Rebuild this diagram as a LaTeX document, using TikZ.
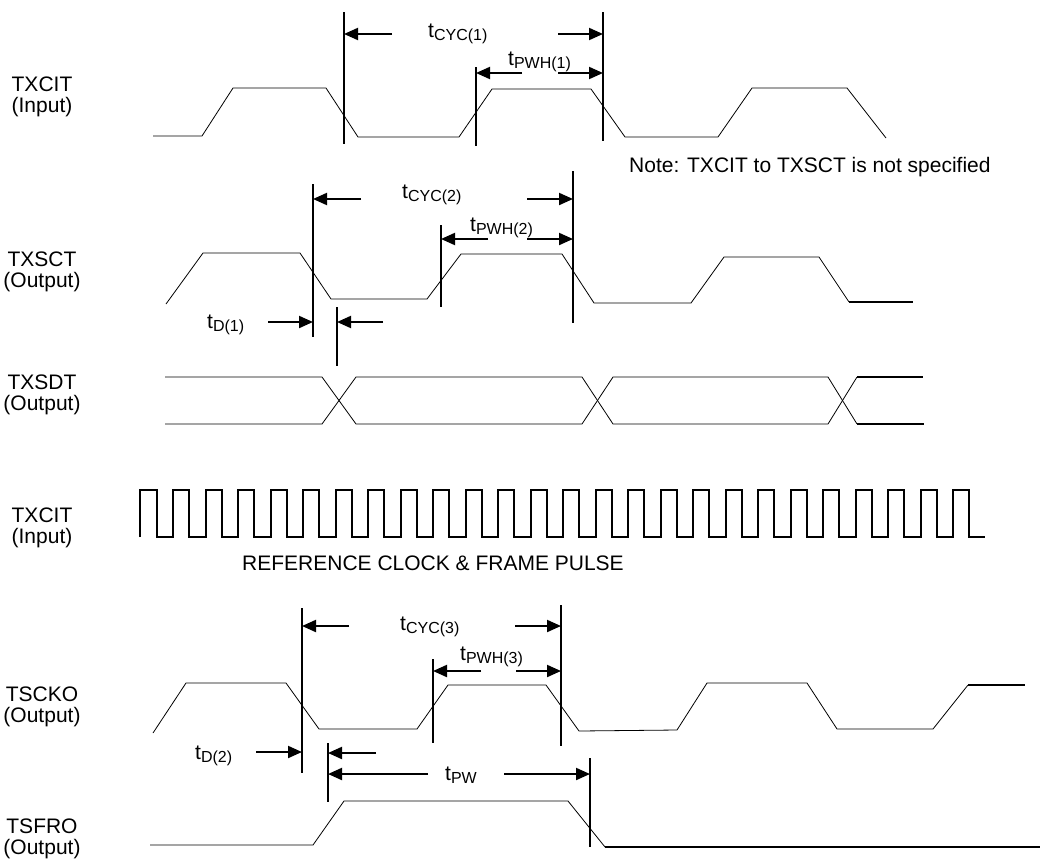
\documentclass[tikz,border=0pt]{standalone}
\usepackage{fontspec}
\setmainfont{Liberation Sans}
\usetikzlibrary{arrows.meta}
\newcommand{\tlab}[1]{t\raisebox{-3pt}{\fontsize{16}{16}\selectfont #1}}
\begin{document}
\begin{tikzpicture}[x=1pt,y=-1pt,
  wave/.style={line width=0.8pt, line join=miter},
  wavethick/.style={line width=2pt},
  clk/.style={line width=2pt, line join=miter},
  marker/.style={line width=2pt},
  dim/.style={line width=2pt, -{Triangle[length=14pt,width=12pt]}},
  lab/.style={font=\fontsize{21}{21}\selectfont, align=center, inner sep=0pt},
  tl/.style={font=\fontsize{21}{22}\selectfont, anchor=base west, inner sep=0pt}]
\useasboundingbox (0,0) rectangle (1052,860);

% ---------- signal labels ----------
\node[lab] (l1) at (42,97)  {TXCIT\\(Input)};
\node[lab] (l2) at (42,272) {TXSCT\\(Output)};
\node[lab] (l3) at (42,395) {TXSDT\\(Output)};
\node[lab] (l4) at (42,528) {TXCIT\\(Input)};
\node[lab] (l5) at (42,707) {TSCKO\\(Output)};
\node[lab] (l6) at (42,839) {TSFRO\\(Output)};

% ---------- TXCIT (top) ----------
\draw[wave] (153,136) -- (202,136) -- (233,88) -- (326,88) -- (358,137) -- (459,137) -- (492,89) -- (591,89) -- (625,137) -- (718,137) -- (752,88) -- (847,88) -- (886,138);
\draw[marker] (344,12) -- (344,144);
\draw[marker] (476,67) -- (476,146);
\draw[marker] (603,12) -- (603,141);
\draw[dim] (392,34) -- (344,34);
\draw[dim] (558,34) -- (603,34);
\draw[dim] (522,73) -- (476,73);
\draw[dim] (558,73) -- (603,73);
\node[tl] (cyc1) at (428,37) {\tlab{CYC(1)}};
\node[tl] (pwh1) at (508,65) {\tlab{PWH(1)}};
\node[tl] (note) at (629,172) {Note: TXCIT to TXSCT is not specified};

% ---------- TXSCT ----------
\draw[wave] (166,304) -- (203,253) -- (300,253) -- (331,299) -- (427,299) -- (461,254) -- (562,254) -- (594,303) -- (691,303) -- (724,257) -- (819,257) -- (849,302);
\draw[wavethick] (849,302) -- (913,302);
\draw[marker] (313,184) -- (313,337);
\draw[marker] (441,225) -- (441,307);
\draw[marker] (573,171) -- (573,323);
\draw[marker] (337,307) -- (337,366);
\draw[dim] (361,199) -- (313,199);
\draw[dim] (527,199) -- (573,199);
\draw[dim] (488,239) -- (441,239);
\draw[dim] (527,239) -- (573,239);
\draw[dim] (268,322) -- (313,322);
\draw[dim] (383,322) -- (337,322);
\node[tl] (cyc2) at (402,198) {\tlab{CYC(2)}};
\node[tl] (pwh2) at (470,231) {\tlab{PWH(2)}};
\node[tl] (d1) at (207,328) {\tlab{D(1)}};

% ---------- TXSDT ----------
\draw[wave] (165,377) -- (322,377) -- (356,424) -- (582,424) -- (613,377) -- (828,377) -- (857,424);
\draw[wave] (165,424) -- (322,424) -- (356,377) -- (582,377) -- (613,424) -- (828,424) -- (857,377);
\draw[wavethick] (857,424) -- (924,424);
\draw[wavethick] (857,377) -- (923,377);

% ---------- TXCIT reference clock ----------
\draw[clk] (140,537) -- (140,490) -- (157,490) -- (157,537)
  \foreach \k in {0,...,24} { -- ({173+32.5*\k},537) -- ({173+32.5*\k},490) -- ({189+32.5*\k},490) -- ({189+32.5*\k},537) } -- (985,537);
\node[tl] (ref) at (242,570) {REFERENCE CLOCK \& FRAME PULSE};

% ---------- TSCKO ----------
\draw[wave] (153,733) -- (186,683) -- (286,683) -- (319,729) -- (417,729) -- (448,685) -- (546,685) -- (579,731) -- (677,730) -- (707,683) -- (807,683) -- (837,729) -- (933,729) -- (968,685);
\draw[wavethick] (968,685) -- (1025,685);
\draw[marker] (302,608) -- (302,773);
\draw[marker] (433,659) -- (433,743);
\draw[marker] (561,605) -- (561,746);
\draw[marker] (328,743) -- (328,802);
\draw[marker] (590,758) -- (590,847);
\draw[dim] (349,626) -- (302,626);
\draw[dim] (515,626) -- (561,626);
\draw[dim] (481,671) -- (433,671);
\draw[dim] (516,671) -- (561,671);
\draw[dim] (256,752) -- (302,752);
\draw[dim] (376,753) -- (328,753);
\draw[dim] (428,774) -- (328,774);
\draw[dim] (504,774) -- (590,774);
\node[tl] (cyc3) at (400,630) {\tlab{CYC(3)}};
\node[tl] (pwh3) at (460,660) {\tlab{PWH(3)}};
\node[tl] (d2) at (195,759) {\tlab{D(2)}};
\node[tl] (pw) at (445,780) {\tlab{PW}};

% ---------- TSFRO ----------
\draw[wave] (150,845) -- (313,845) -- (344,801) -- (568,801) -- (605,847);
\draw[wavethick] (605,847) -- (1040,847);
\end{tikzpicture}
\end{document}
